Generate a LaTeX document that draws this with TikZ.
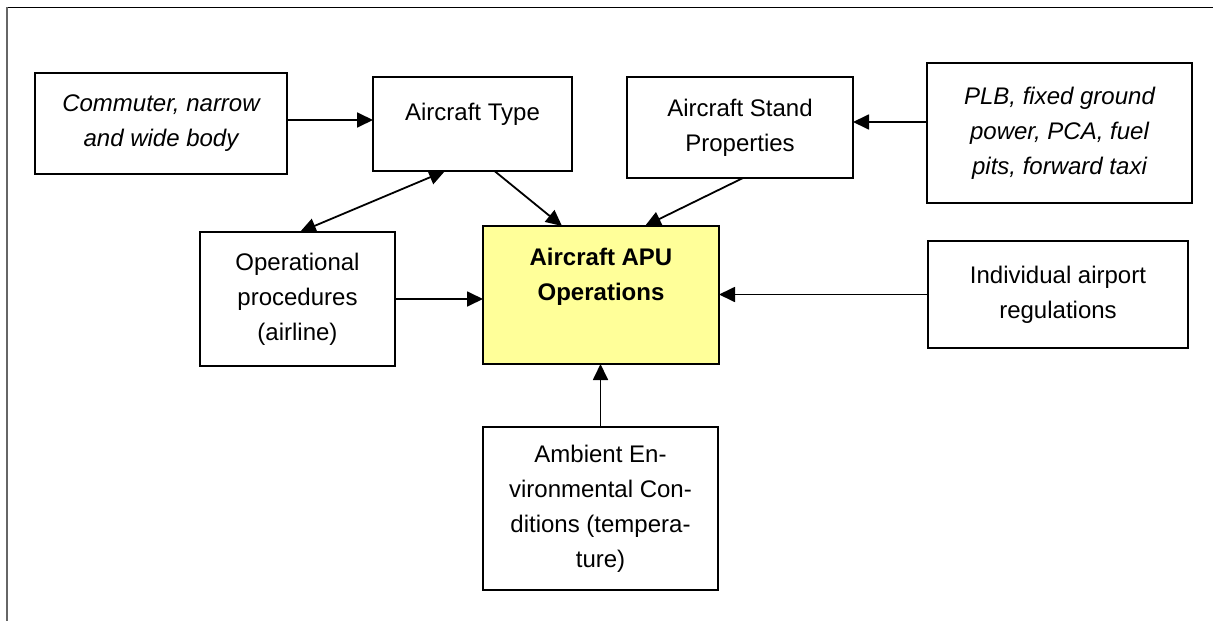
\documentclass[tikz,border=0pt]{standalone}
\usepackage{fontspec}
\setmainfont{Liberation Sans}
\usepackage{tikz}
\usetikzlibrary{calc,arrows.meta}
\definecolor{apuyellow}{HTML}{FFFF99}

\begin{document}
\begin{tikzpicture}[x=1pt, y=-1pt,
  box/.style = {draw, line width=1.6pt, inner sep=0pt, outer sep=0pt, align=center,
                font=\fontsize{24}{35}\selectfont},
  link/.style = {line width=1.8pt, -{Triangle[length=16pt,width=15pt]}}]
\useasboundingbox (0,0) rectangle (1213,621);
\draw[line width=1pt] (7,7) -- (1213,7);
\draw[line width=2.2pt, black!60] (7,7) -- (7,621);
% boxes
\node[box, minimum width=252pt, minimum height=101pt] (commuter) at (161,123.5)
  {\itshape Commuter, narrow\\\itshape and wide body};
\node[box, minimum width=199pt, text height=43pt, text depth=51pt] (type) at (472.5,124)
  {Aircraft Type};
\node[box, minimum width=226pt, minimum height=101pt] (stand) at (740,127.5)
  {Aircraft Stand\\Properties};
\node[box, minimum width=265pt, minimum height=140pt] (plb) at (1059.5,133)
  {\itshape PLB, fixed ground\\\itshape power, PCA, fuel\\\itshape pits, forward taxi};
\node[box, minimum width=195pt, minimum height=134pt] (oper) at (297.5,299)
  {Operational\\procedures\\(airline)};
\node[box, fill=apuyellow, minimum width=236pt, text height=74pt, text depth=64pt,
      font=\fontsize{24}{35}\selectfont\bfseries] (apu) at (601,295)
  {Aircraft APU\\Operations};
\node[box, minimum width=260pt, minimum height=107pt] (regs) at (1058,294.5)
  {Individual airport\\regulations};
\node[box, minimum width=235pt, minimum height=163pt] (ambient) at (600.5,508.5)
  {Ambient En-\\vironmental Con-\\ditions (tempera-\\ture)};
% connectors
\draw[link] ([yshift=3.5pt]commuter.east) -- ([yshift=3.5pt]commuter.east -| type.west);
\draw[link] ([yshift=11pt]plb.west) -- ([yshift=11pt]plb.west -| stand.east);
\draw[link, {Triangle[length=16pt,width=15pt]}-{Triangle[length=16pt,width=15pt]}]
  ([xshift=-27.5pt]type.south) -- ([xshift=2.5pt]oper.north);
\draw[link] ([xshift=22pt]type.south) -- ([xshift=-39pt]apu.north);
\draw[link] ([xshift=3pt]stand.south) -- ([xshift=44pt]apu.north);
\draw[link] (oper.east) -- (oper.east -| apu.west);
\draw[link] (regs.west) -- (regs.west -| apu.east);
\draw[link] (ambient.north) -- (ambient.north |- apu.south);
\end{tikzpicture}
\end{document}
